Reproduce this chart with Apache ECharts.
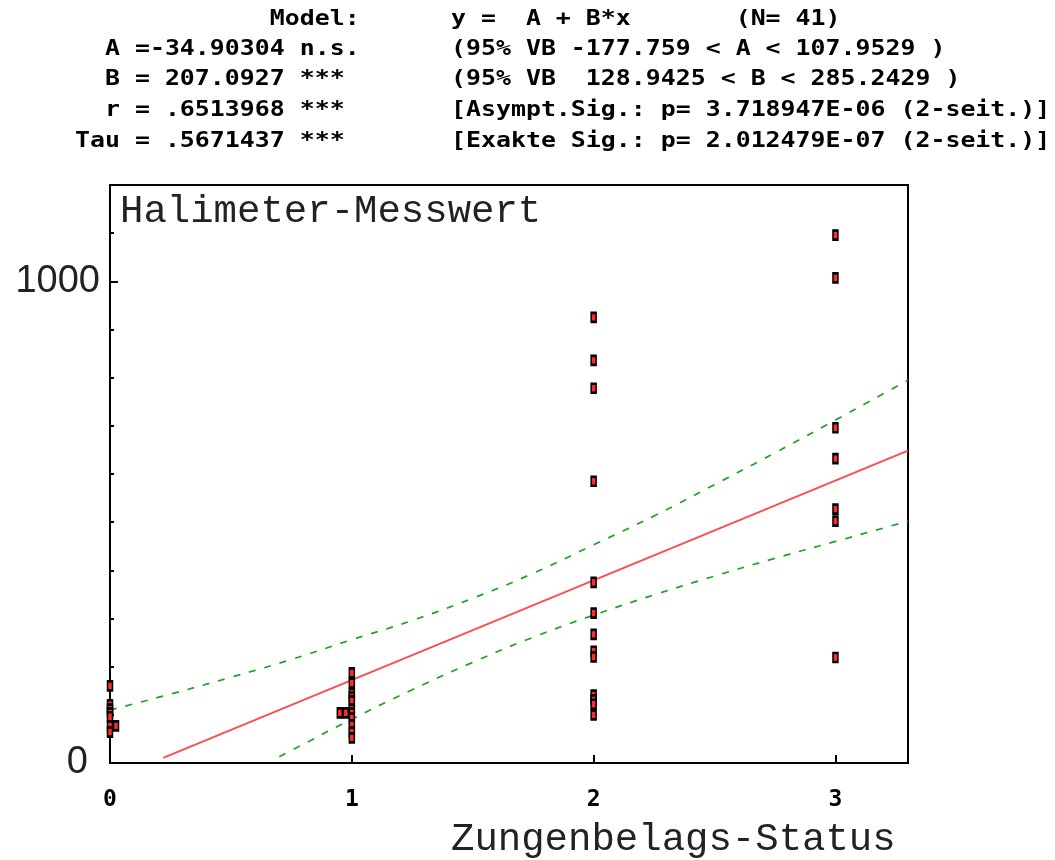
<!DOCTYPE html>
<html>
<head>
<meta charset="utf-8">
<title>Halimeter-Messwert vs. Zungenbelags-Status</title>
<script src="https://cdn.jsdelivr.net/npm/echarts@6/dist/echarts.min.js"></script>
<style>
  html, body { margin: 0; padding: 0; background: #fff; }
  #chart { width: 1055px; height: 860px; }
</style>
</head>
<body>
<div id="chart"></div>
<script>
// Halimeter readings grouped by tongue-coating status (0..3)
const halimeterStatus0 = [160, 121, 112, 104, 96, 77, 77, 64];
const halimeterStatus1 = [187, 166, 145, 137, 129, 112, 104, 104, 104, 93, 79, 64, 52];
const halimeterStatus2 = [925, 836, 778, 585, 375, 311, 267, 232, 220, 141, 131, 122, 100];
const halimeterStatus3 = [1096, 1007, 696, 632, 527, 502, 219];
const statusLevels = [0, 1, 2, 3];

// Fitted model y = A + B*x
const coefA = -34.90304;
const coefB = 207.0927;
const fitX = [0.22, 3.3];

// 95% confidence band around the fit
const bandUpperX = [0, 0.25, 0.5, 0.75, 1, 1.25, 1.5, 1.75, 2, 2.25, 2.5, 2.75, 3, 3.3];
const bandUpperY = [110, 143, 178, 215, 256, 296, 342, 394, 453, 513, 578, 644, 712, 795];
const bandLowerX = [0.70, 0.75, 1, 1.25, 1.5, 1.75, 2, 2.25, 2.5, 2.75, 3, 3.3];
const bandLowerY = [13, 26, 91, 152, 209, 261, 307, 349, 388, 425, 460, 502];

// Axis ticks and labels
const xTickValues = [0, 1, 2, 3];
const yLabelValues = [0, 1000];
const yMinorTicks = [0, 100, 200, 300, 400, 500, 600, 700, 800, 900, 1000, 1100, 1200];
const yMajorTicks = [1000];

// Header text (two columns)
const headerLeft = [
  '             Model:',
  '  A =-34.90304 n.s.',
  '  B = 207.0927 ***',
  '  r = .6513968 ***',
  'Tau = .5671437 ***'
];
const headerRight = [
  'y =  A + B*x       (N= 41)',
  '(95% VB -177.759 < A < 107.9529 )',
  '(95% VB  128.9425 < B < 285.2429 )',
  '[Asympt.Sig.: p= 3.718947E-06 (2-seit.)]',
  '[Exakte Sig.: p= 2.012479E-07 (2-seit.)]'
];

const groups = [halimeterStatus0, halimeterStatus1, halimeterStatus2, halimeterStatus3];

// Tied values are nudged sideways so every symbol stays visible
const scatterData = [];
groups.forEach(function (vals, gi) {
  const x = statusLevels[gi];
  const seen = {};
  vals.forEach(function (v) {
    const k = seen[v] || 0;
    seen[v] = k + 1;
    const dir = x === 0 ? 1 : -1;
    scatterData.push({ value: [x, v], symbolOffset: [dir * 6 * k, 0] });
  });
});

const fitData = fitX.map(function (x) { return [x, coefA + coefB * x]; });
const upperData = bandUpperX.map(function (x, i) { return [x, bandUpperY[i]]; });
const lowerData = bandLowerX.map(function (x, i) { return [x, bandLowerY[i]]; });

const headerFont = '"DejaVu Sans Mono", "Liberation Mono", monospace';
const rowY = [20, 50, 80, 111, 142];
const graphics = [];
headerLeft.forEach(function (t, i) {
  graphics.push({
    type: 'text', x: 75, y: rowY[i], scaleX: 1.185,
    style: { text: t, font: 'bold 21px ' + headerFont, fill: '#000', textVerticalAlign: 'middle' }
  });
});
headerRight.forEach(function (t, i) {
  graphics.push({
    type: 'text', x: 451, y: rowY[i], scaleX: 1.185,
    style: { text: t, font: 'bold 21px ' + headerFont, fill: '#000', textVerticalAlign: 'middle' }
  });
});
graphics.push({
  type: 'text', x: 120, y: 212,
  style: { text: 'Halimeter-Messwert', font: '39px "Liberation Mono", monospace', fill: '#222', textVerticalAlign: 'middle' }
});
graphics.push({
  type: 'text', x: 451, y: 840,
  style: { text: 'Zungenbelags-Status', font: '39px "Liberation Mono", monospace', fill: '#222', textVerticalAlign: 'middle' }
});

const chart = echarts.init(document.getElementById('chart'), null, { renderer: 'canvas' });
chart.setOption({
  animation: false,
  backgroundColor: '#fff',
  grid: {
    left: 110, right: 147, top: 185, bottom: 97,
    show: true, borderColor: '#000', borderWidth: 2, backgroundColor: 'transparent'
  },
  xAxis: {
    type: 'value', min: 0, max: 3.3,
    axisLine: { lineStyle: { color: '#000', width: 2 } },
    axisTick: { inside: true, length: 8, customValues: xTickValues, lineStyle: { color: '#000', width: 2 } },
    axisLabel: {
      customValues: xTickValues, margin: 26, color: '#000',
      fontFamily: headerFont, fontWeight: 'bold', fontSize: 23
    },
    splitLine: { show: false }
  },
  yAxis: [{
    type: 'value', min: 0, max: 1200,
    axisLine: { lineStyle: { color: '#000', width: 2 } },
    axisTick: { inside: true, length: 4, customValues: yMinorTicks, lineStyle: { color: '#000', width: 2 } },
    axisLabel: {
      customValues: yLabelValues, margin: 10, color: '#222',
      fontFamily: '"Liberation Sans", Arial, sans-serif', fontSize: 38,
      formatter: function (v) { return v === 0 ? '{z|0}' : String(v); },
      rich: { z: { fontFamily: '"Liberation Sans", Arial, sans-serif', fontSize: 38, color: '#222', padding: [0, 12, 0, 0] } }
    },
    splitLine: { show: false }
  }, {
    type: 'value', min: 0, max: 1200, position: 'left',
    axisLine: { show: false },
    axisTick: { inside: true, length: 8, customValues: yMajorTicks, lineStyle: { color: '#000', width: 2 } },
    axisLabel: { show: false },
    splitLine: { show: false }
  }],
  series: [
    {
      type: 'line', data: fitData, symbol: 'none', z: 2,
      lineStyle: { color: '#ff4a4a', width: 1.7 }
    },
    {
      type: 'line', data: upperData, symbol: 'none', smooth: true, z: 2,
      lineStyle: { color: '#22a022', width: 1.7, type: [7, 9] }
    },
    {
      type: 'line', data: lowerData, symbol: 'none', smooth: true, z: 2,
      lineStyle: { color: '#22a022', width: 1.7, type: [7, 9] }
    },
    {
      type: 'scatter', data: scatterData, symbol: 'rect', symbolSize: [5, 9], z: 5,
      clip: false,
      itemStyle: { color: '#ff2a2a', borderColor: '#000', borderWidth: 2, opacity: 1 }
    }
  ],
  graphic: graphics
});
</script>
</body>
</html>
